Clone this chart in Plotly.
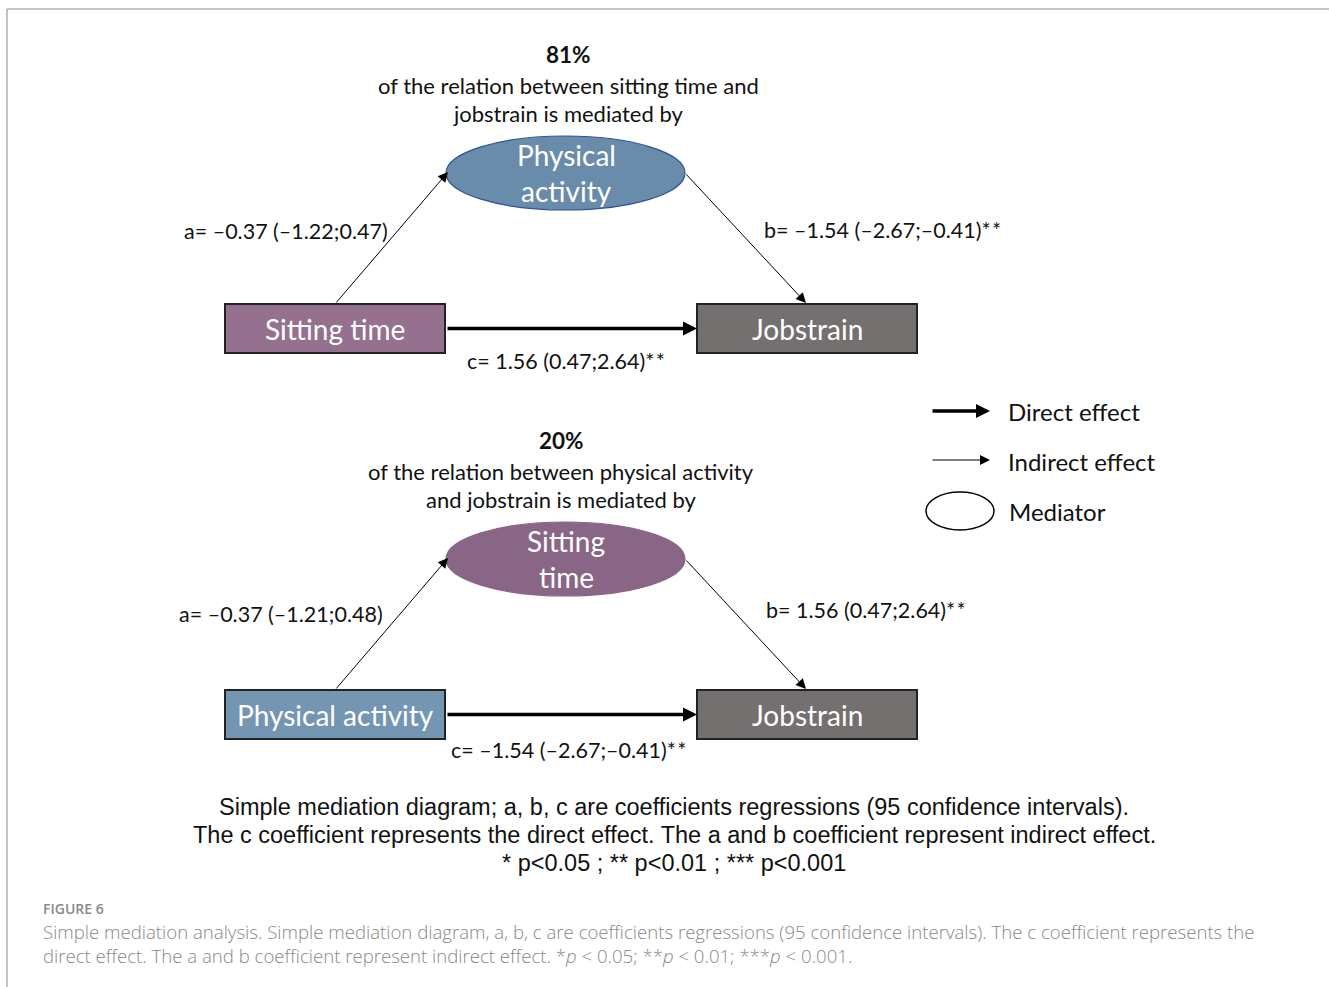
import plotly.graph_objects as go

# Mediation model 1: sitting time -> physical activity -> jobstrain
m1_pct = 81
m1_coef = {"a": -0.37, "b": -1.54, "c": 1.56}
m1_lo = {"a": -1.22, "b": -2.67, "c": 0.47}
m1_hi = {"a": 0.47, "b": -0.41, "c": 2.64}
m1_sig = {"a": "", "b": "**", "c": "**"}

# Mediation model 2: physical activity -> sitting time -> jobstrain
m2_pct = 20
m2_coef = {"a": -0.37, "b": 1.56, "c": -1.54}
m2_lo = {"a": -1.21, "b": 0.47, "c": -2.67}
m2_hi = {"a": 0.48, "b": 2.64, "c": -0.41}
m2_sig = {"a": "", "b": "**", "c": "**"}

W, H = 1329, 987
FONT = "Lato"
NOTE_FONT = "Liberation Sans Narrow, Liberation Sans, Arial"
CAP_FONT = "Open Sans"

C_SIT = "#95718f"
C_SIT_ELL = "#8a6686"
C_PA = "#7496b3"
C_PA_ELL = "#6a8cab"
C_JOB = "#757070"


def num(v):
    return f"{v:.2f}".replace("-", "–")


def coef_label(k, coef, lo, hi, sig):
    stars = "\u200a".join(sig[k]) if sig[k] else ""
    return f"{k}= {num(coef[k])} ({num(lo[k])};{num(hi[k])}){stars}"


fig = go.Figure()
shapes = []
annotations = []


def text(x, y, s, size=21, color="#111", xanchor="center", family=FONT, weight=None):
    f = dict(size=size, color=color, family=family)
    if weight:
        f["weight"] = weight
    annotations.append(dict(x=x, y=y, xref="x", yref="y", text=s, showarrow=False,
                            xanchor=xanchor, yanchor="middle", font=f))


def arrow(x0, y0, x1, y1, width, size):
    annotations.append(dict(x=x1, y=y1, ax=x0, ay=y0, xref="x", yref="y", axref="x", ayref="y",
                            text="", showarrow=True, arrowhead=2, arrowsize=size,
                            arrowwidth=width, arrowcolor="#000", standoff=0, startstandoff=0))


def model(y_top, pct, src_name, src_col, med_lines, med_col, med_border, coef, lo, hi, sig,
          a_pos, b_pos, c_pos, note_lines):
    # heading
    text(c_pos[2], y_top, f"<b>{pct}%</b>", size=22.5)
    text(c_pos[2], y_top + 31, note_lines[0], size=22)
    text(c_pos[2], y_top + 59, note_lines[1], size=22)
    ey0, ey1 = y_top + 82, y_top + 156
    ecy = (ey0 + ey1) / 2
    by0, by1 = y_top + 250, y_top + 299
    bcy = (by0 + by1) / 2
    # mediator ellipse
    shapes.append(dict(type="circle", xref="x", yref="y", x0=446, x1=685, y0=ey0, y1=ey1,
                       fillcolor=med_col, line=dict(color=med_border, width=1.2)))
    text(566, ecy - 18, med_lines[0], size=28, color="white")
    text(566, ecy + 18, med_lines[1], size=28, color="white")
    # boxes
    shapes.append(dict(type="rect", xref="x", yref="y", x0=225, x1=445, y0=by0, y1=by1,
                       fillcolor=src_col, line=dict(color="#222", width=2)))
    text(335, bcy, src_name, size=28, color="white")
    shapes.append(dict(type="rect", xref="x", yref="y", x0=697, x1=917, y0=by0, y1=by1,
                       fillcolor=C_JOB, line=dict(color="#222", width=2)))
    text(807, bcy, "Jobstrain", size=28, color="white")
    # paths
    arrow(335, by0, 448, ecy - 1, 1, 2.0)
    arrow(685, ecy, 806, by0 - 1, 1, 2.0)
    arrow(446, bcy, 697, bcy, 3.5, 0.8)
    text(a_pos[0], a_pos[1], coef_label("a", coef, lo, hi, sig), size=21.5, xanchor="right")
    text(b_pos[0], b_pos[1], coef_label("b", coef, lo, hi, sig), size=21.5, xanchor="left")
    text(c_pos[0], c_pos[1], coef_label("c", coef, lo, hi, sig), size=21.5)


model(54, m1_pct, "Sitting time", C_SIT, ("Physical", "activity"), C_PA_ELL, "#2f5597",
      m1_coef, m1_lo, m1_hi, m1_sig, (390, 231), (762, 230), (566, 361, 568),
      ("of the relation between sitting time and", "jobstrain is mediated by"))
model(440, m2_pct, "Physical activity", C_PA, ("Sitting", "time"), C_SIT_ELL, C_SIT_ELL,
      m2_coef, m2_lo, m2_hi, m2_sig, (385, 614), (764, 610), (568, 750, 561),
      ("of the relation between physical activity", "and jobstrain is mediated by"))

# legend
arrow(931, 411, 990, 411, 3.5, 0.8)
text(1006, 411, "Direct effect", size=24, xanchor="left")
arrow(931, 460, 990, 460, 1, 2.0)
text(1006, 461, "Indirect effect", size=24, xanchor="left")
shapes.append(dict(type="circle", xref="x", yref="y", x0=926, x1=994, y0=492, y1=530,
                   fillcolor="white", line=dict(color="#000", width=1.5)))
text(1007, 511, "Mediator", size=24, xanchor="left")

# diagram note
text(674, 807, "Simple mediation diagram; a, b, c are coefficients regressions (95 confidence intervals).",
     size=23.5, family=NOTE_FONT, color="#111")
text(674, 835, "The c coefficient represents the direct effect. The a and b coefficient represent indirect effect.",
     size=23.5, family=NOTE_FONT, color="#111")
text(674, 863, "* p&lt;0.05 ; ** p&lt;0.01 ; *** p&lt;0.001", size=23.5, family=NOTE_FONT, color="#111")

# figure caption
text(41, 908, "FIGURE 6", size=14, color="#888", xanchor="left", family=CAP_FONT, weight=600)
text(41, 931, "Simple mediation analysis. Simple mediation diagram, a, b, c are coefficients regressions "
              "(95 confidence intervals). The c coefficient represents the",
     size=18.6, color="#888", xanchor="left", family=CAP_FONT, weight=300)
text(41, 955, "direct effect. The a and b coefficient represent indirect effect. "
              "*<i>p</i> &lt; 0.05; **<i>p</i> &lt; 0.01; ***<i>p</i> &lt; 0.001.",
     size=18.6, color="#888", xanchor="left", family=CAP_FONT, weight=300)

# frame
shapes.append(dict(type="line", xref="x", yref="y", x0=7, x1=W, y0=9, y1=9,
                   line=dict(color="#b0b0b0", width=1.5)))
shapes.append(dict(type="line", xref="x", yref="y", x0=7, x1=7, y0=9, y1=H,
                   line=dict(color="#b0b0b0", width=1.5)))

fig.update_layout(
    width=W, height=H, margin=dict(l=0, r=0, t=0, b=0),
    paper_bgcolor="white", plot_bgcolor="white",
    xaxis=dict(range=[0, W], visible=False, fixedrange=True),
    yaxis=dict(range=[H, 0], visible=False, fixedrange=True),
    shapes=shapes, annotations=annotations, showlegend=False,
)
fig.write_html("out.html")
